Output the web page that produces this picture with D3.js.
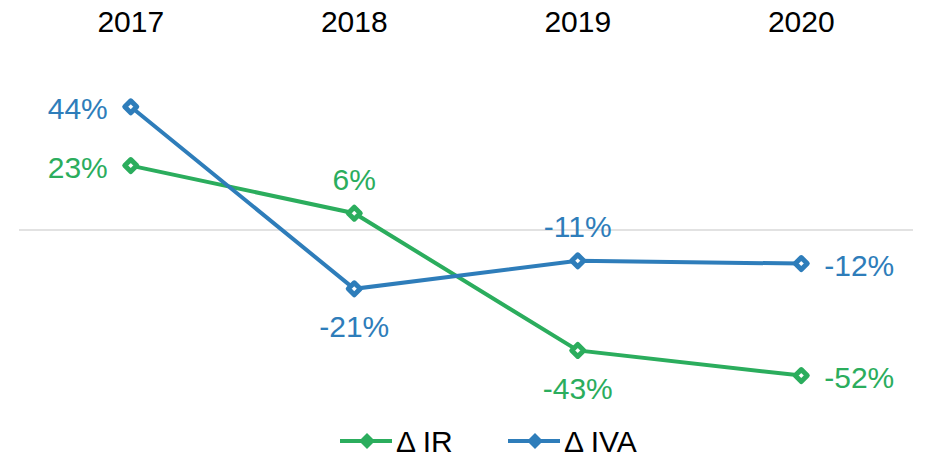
<!DOCTYPE html>
<html>
<head>
<meta charset="utf-8">
<script src="https://cdn.jsdelivr.net/npm/d3@7"></script>
<style>
  body { margin: 0; background: #fff; }
  text { font-family: "Liberation Sans", Arial, sans-serif; }
</style>
</head>
<body>
<svg id="chart" width="926" height="460"></svg>
<script>
const years = ['2017', '2018', '2019', '2020'];
const irValues = [23, 6, -43, -52];
const ivaValues = [44, -21, -11, -12];
// where each data label sits relative to its point
const irLabelPos = ['left', 'above', 'below', 'right'];
const ivaLabelPos = ['left', 'below', 'above', 'right'];

const green = '#2bad5d';
const blue = '#2e7dba';
const fontSize = 30;

const svg = d3.select('#chart');
const x = d3.scaleBand().domain(years).range([19, 913]);
const y = d3.scaleLinear().domain([-60, 60]).range([230 + 60 * 2.8, 230 - 60 * 2.8]);
const cx = d => x(d) + x.bandwidth() / 2;

// category labels on top
svg.append('g').selectAll('text')
  .data(years)
  .join('text')
  .attr('x', cx)
  .attr('y', 32)
  .attr('text-anchor', 'middle')
  .attr('font-size', fontSize)
  .attr('fill', '#000')
  .text(d => d);

// zero line
svg.append('line')
  .attr('x1', 19).attr('x2', 913)
  .attr('y1', y(0)).attr('y2', y(0))
  .attr('stroke', '#d9d9d9')
  .attr('stroke-width', 1.5);

const series = [
  { name: 'Δ IR', values: irValues, pos: irLabelPos, color: green },
  { name: 'Δ IVA', values: ivaValues, pos: ivaLabelPos, color: blue }
];

const diamond = (g, color) => {
  g.append('path')
    .attr('d', 'M0,-6L6,0L0,6L-6,0Z')
    .attr('fill', '#fff')
    .attr('stroke', color)
    .attr('stroke-width', 5)
    .attr('stroke-linejoin', 'round');
};

const line = d3.line().x(d => cx(d.year)).y(d => y(d.v));

series.forEach(s => {
  const pts = years.map((yr, i) => ({ year: yr, v: s.values[i], pos: s.pos[i] }));
  svg.append('path')
    .datum(pts)
    .attr('fill', 'none')
    .attr('stroke', s.color)
    .attr('stroke-width', 4)
    .attr('d', line);

  const g = svg.append('g').selectAll('g')
    .data(pts)
    .join('g')
    .attr('transform', d => `translate(${cx(d.year)},${y(d.v)})`);
  g.each(function () { diamond(d3.select(this), s.color); });

  g.append('text')
    .attr('font-size', fontSize)
    .attr('fill', s.color)
    .attr('dy', '0.35em')
    .attr('text-anchor', d => d.pos === 'left' ? 'end' : d.pos === 'right' ? 'start' : 'middle')
    .attr('x', d => d.pos === 'left' ? -23 : d.pos === 'right' ? 23 : 0)
    .attr('y', d => d.pos === 'above' ? -34 : d.pos === 'below' ? 38 : 2)
    .text(d => d.v + '%');
});

// legend
const legendX = [340, 508];
const legend = svg.append('g').selectAll('g')
  .data(series)
  .join('g')
  .attr('transform', (d, i) => `translate(${legendX[i]},441)`);
legend.append('line')
  .attr('x1', 0).attr('x2', 52)
  .attr('stroke', d => d.color)
  .attr('stroke-width', 4);
legend.append('path')
  .attr('transform', 'translate(27,0)')
  .attr('d', 'M0,-8L8,0L0,8L-8,0Z')
  .attr('fill', d => d.color);
legend.append('text')
  .attr('x', 56)
  .attr('dy', '0.35em')
  .attr('font-size', fontSize)
  .attr('fill', '#000')
  .text(d => d.name);
</script>
</body>
</html>
